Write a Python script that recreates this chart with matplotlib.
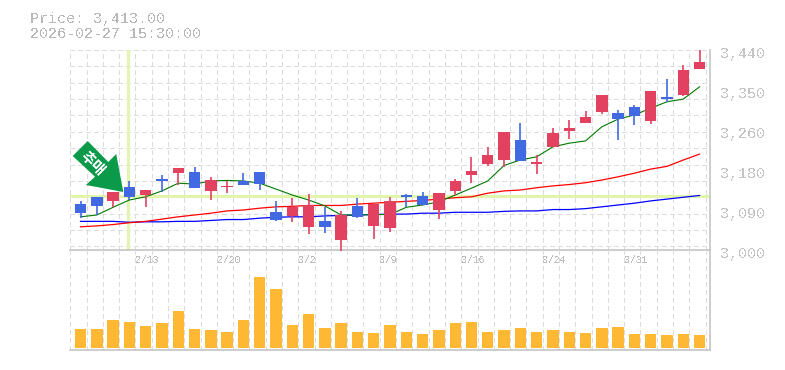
import matplotlib
matplotlib.use("Agg")
import matplotlib.pyplot as plt
import numpy as np
from matplotlib.patches import Polygon

plt.rcParams["font.family"] = ["Liberation Mono", "DejaVu Sans Mono"]
plt.rcParams["text.antialiased"] = False

# prices
opens = [3101, 3117, 3108, 3139, 3121, 3156, 3169, 3172, 3130, 3138, 3152, 3172, 3084,
         3075, 3051, 3064, 3022, 3097, 3053, 3048, 3121, 3119, 3088, 3130, 3165, 3189,
         3198, 3242, 3189, 3227, 3262, 3279, 3304, 3301, 3315, 3284, 3337, 3341, 3398]
closes = [3082, 3097, 3127, 3117, 3131, 3152, 3180, 3136, 3153, 3140, 3143, 3145, 3066,
          3095, 3098, 3051, 3077, 3073, 3102, 3108, 3117, 3099, 3125, 3152, 3174, 3209,
          3260, 3196, 3194, 3257, 3268, 3293, 3341, 3288, 3295, 3350, 3332, 3396, 3413]
highs = [3108, 3117, 3127, 3152, 3131, 3165, 3180, 3183, 3161, 3152, 3169, 3172, 3108,
         3114, 3123, 3094, 3086, 3114, 3102, 3117, 3123, 3128, 3125, 3156, 3205, 3227,
         3260, 3279, 3209, 3268, 3286, 3306, 3341, 3308, 3319, 3350, 3376, 3407, 3440]
lows = [3070, 3077, 3095, 3110, 3095, 3127, 3143, 3136, 3110, 3126, 3143, 3132, 3064,
        3062, 3035, 3037, 2998, 3070, 3024, 3040, 3094, 3099, 3068, 3121, 3147, 3185,
        3183, 3196, 3167, 3227, 3244, 3279, 3299, 3242, 3275, 3277, 3326, 3339, 3398]

ma_green = [3073, 3077, 3094, 3110, 3117, 3130, 3147, 3145, 3152, 3153, 3152, 3147, 3134,
            3121, 3110, 3097, 3077, 3077, 3078, 3078, 3094, 3099, 3106, 3121, 3136, 3152,
            3186, 3198, 3205, 3227, 3235, 3240, 3271, 3288, 3297, 3312, 3326, 3332, 3359]
ma_red = [3051, 3053, 3056, 3060, 3063, 3068, 3073, 3077, 3081, 3086, 3088, 3092, 3095,
          3096, 3098, 3098, 3098, 3101, 3103, 3105, 3107, 3109, 3112, 3115, 3117, 3125,
          3130, 3132, 3137, 3141, 3144, 3148, 3154, 3161, 3169, 3178, 3184, 3198, 3211]
ma_blue = [3063, 3063, 3063, 3061, 3062, 3062, 3063, 3063, 3065, 3067, 3067, 3070, 3072,
           3073, 3073, 3075, 3076, 3077, 3078, 3079, 3079, 3081, 3081, 3083, 3083, 3083,
           3085, 3086, 3086, 3089, 3089, 3091, 3095, 3099, 3103, 3108, 3112, 3116, 3120]
volume = [19, 19, 28, 26, 22, 25, 37, 19, 18, 16, 28, 71, 59, 23, 34, 20, 25, 16, 15, 23,
          16, 14, 18, 25, 26, 16, 18, 20, 16, 18, 16, 15, 20, 21, 14, 14, 13, 14, 13]

date_pos = [4, 9, 14, 19, 24, 29, 34]
date_labels = ["2/13", "2/20", "3/2", "3/9", "3/16", "3/24", "3/31"]
price_ticks = [3440, 3352, 3264, 3176, 3088, 3000]
price_labels = ["3,440", "3,350", "3,260", "3,180", "3,090", "3,000"]
last_price = "3,413.00"
last_time = "2026-02-27 15:30:00"
cross_index = 2.9
cross_price = 3118

RED = "#E2415F"
BLUE = "#4169E1"
GRAY = "#B8B8B8"
GRID = "#DCDCDC"
CROSS = "#E2F5AC"
ARROW = "#0A9A4A"

W, H = 785, 370
fig = plt.figure(figsize=(W / 100, H / 100), dpi=100)
ax = fig.add_axes([70 / W, 1 - 250 / H, 640 / W, 200 / H])
vol = fig.add_axes([70 / W, 1 - 350 / H, 640 / W, 100 / H])

x = np.arange(len(opens))
grid_x = np.arange(40) - 0.63
grid_style = dict(color=GRID, lw=0.85, ls=(0, (3.4, 2.6)), zorder=1, antialiased=False)
for a in (ax, vol):
    a.set_xlim(-0.645, 38.64)
    a.set_xticks([])
    a.set_yticks([])
    a.patch.set_alpha(0)
    for k in ("top", "left"):
        a.spines[k].set_visible(False)
    for k in ("bottom", "right"):
        a.spines[k].set_color("#C0C0C0")
        a.spines[k].set_linewidth(1.1)
    for g in grid_x:
        a.axvline(g, **grid_style)

ax.set_ylim(3000, 3440)
for k in range(13):
    ax.axhline(3440 - 36 * k, **grid_style)

ax.axvline(cross_index, color=CROSS, lw=2.2, ymin=0.01, zorder=2)
ax.axhline(cross_price, color=CROSS, lw=2.2, zorder=2)

ax.plot(x, ma_blue, color="#0000FF", lw=0.9, zorder=3)
ax.plot(x, ma_red, color="#FF0000", lw=0.9, zorder=3)
ax.plot(x, ma_green, color="#007A00", lw=0.8, zorder=3)

for i in x:
    c = RED if closes[i] >= opens[i] else BLUE
    ax.plot([i, i], [lows[i], highs[i]], color=c, lw=1.2, zorder=4, clip_on=False,
            solid_capstyle="butt")
    lo, hi = sorted((opens[i], closes[i]))
    ax.bar(i, hi - lo, bottom=lo, width=0.7, color=c, zorder=5)

vol.bar(x, volume, width=0.7, color="#FFB833", zorder=3)
vol.set_ylim(-2, 98)

for pos, lab in zip(date_pos, date_labels):
    vol.text(pos - 0.63, 88, lab, color="#BEBEBE", fontsize=7.1, ha="left", va="center", zorder=6)

for p, lab in zip(price_ticks, price_labels):
    ax.annotate(lab, (1, p), xycoords=ax.get_yaxis_transform(), xytext=(7, -2.6),
                textcoords="offset points", color="#C4C4C4", fontsize=10.8, ha="left",
                va="center", annotation_clip=False)

fig.text(29.5 / W, 1 - 18.6 / H, "Price: " + last_price, color=GRAY, fontsize=10.8, va="center")
fig.text(29.5 / W, 1 - 33.6 / H, last_time, color=GRAY, fontsize=10.8, va="center")

# signal arrow, in figure pixels from the top left
arrow_px = [(87.7, 141), (72.7, 156), (95, 176.7), (86, 185), (123.3, 192), (116.2, 154), (108.3, 162)]
arrow_fig = [(px / W, 1 - py / H) for px, py in arrow_px]
fig.add_artist(Polygon(arrow_fig, closed=True, transform=fig.transFigure, color=ARROW, lw=0, zorder=10))
fig.text(93 / W, 1 - 163 / H, "추매", color="white", fontsize=10.5, fontweight="bold", rotation=-45,
         rotation_mode="anchor", ha="center", va="center", zorder=11,
         family=["Noto Sans CJK KR", "DejaVu Sans"])

fig.savefig("out.png", dpi=100)
